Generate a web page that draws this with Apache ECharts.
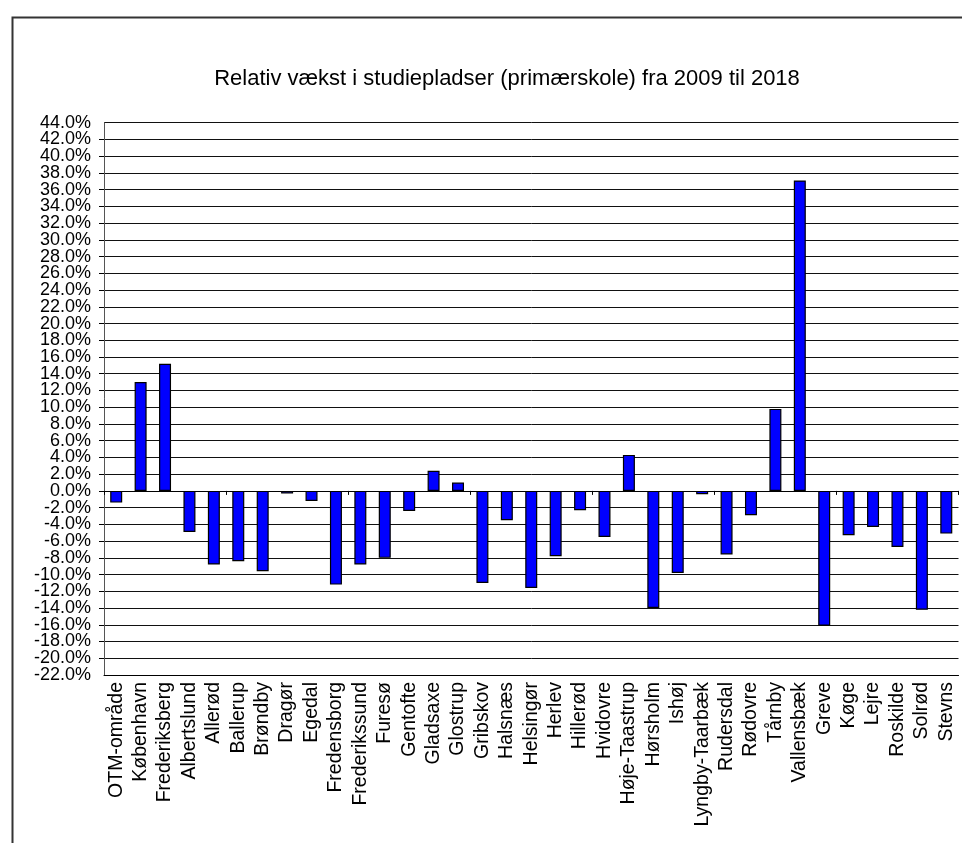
<!DOCTYPE html>
<html>
<head>
<meta charset="utf-8">
<script src="https://cdn.jsdelivr.net/npm/echarts@6/dist/echarts.min.js"></script>
<style>html,body{margin:0;padding:0;background:#fff}#c{width:962px;height:843px}</style>
</head>
<body>
<div id="c"></div>
<script>
const titleText = 'Relativ vækst i studiepladser (primærskole) fra 2009 til 2018';
const categories = ['OTM-område','København','Frederiksberg','Albertslund','Allerød','Ballerup','Brøndby','Dragør','Egedal','Fredensborg','Frederikssund','Furesø','Gentofte','Gladsaxe','Glostrup','Gribskov','Halsnæs','Helsingør','Herlev','Hillerød','Hvidovre','Høje-Taastrup','Hørsholm','Ishøj','Lyngby-Taarbæk','Rudersdal','Rødovre','Tårnby','Vallensbæk','Greve','Køge','Lejre','Roskilde','Solrød','Stevns'];
const growth = [-1.4,13.0,15.2,-4.9,-8.8,-8.4,-9.6,-0.3,-1.2,-11.2,-8.8,-8.0,-2.4,2.4,1.0,-11.0,-3.5,-11.6,-7.8,-2.3,-5.5,4.3,-14.0,-9.8,-0.4,-7.6,-2.9,9.8,37.1,-16.1,-5.3,-4.3,-6.7,-14.2,-5.1];
const yMin = -22, yMax = 44, yStep = 2;

const chart = echarts.init(document.getElementById('c'));
const font = 'Liberation Sans, Arial, sans-serif';
const fmt = v => v.toFixed(1) + '%';
chart.setOption({
  animation: false,
  backgroundColor: '#fff',
  textStyle: { fontFamily: font },
  graphic: [{
    type: 'rect', left: 10, top: 15, z: -1, silent: true,
    shape: { width: 1000, height: 900 },
    style: { fill: 'none', stroke: '#333', lineWidth: 2 }
  }],
  title: {
    text: titleText, left: 502, top: 63, textAlign: 'center',
    textStyle: { fontFamily: font, fontSize: 22, fontWeight: 'normal', color: '#000' }
  },
  grid: { left: 104, right: 3.5, top: 122.7, bottom: 168, containLabel: false },
  xAxis: [{
    type: 'category', data: categories, position: 'bottom',
    axisLine: { onZero: false, lineStyle: { color: '#000', width: 1 } },
    axisTick: { show: false },
    axisLabel: { interval: 0, rotate: 90, fontSize: 19.5, color: '#000', margin: 7, fontFamily: font }
  }, {
    type: 'category', data: categories, position: 'bottom',
    axisLine: { onZero: true, lineStyle: { color: '#000', width: 1 } },
    axisTick: { show: true, length: 4, lineStyle: { color: '#000' } },
    axisLabel: { show: false }
  }],
  yAxis: [{
    type: 'value', min: yMin, max: yMax, interval: yStep, position: 'left',
    axisLine: { show: true, onZero: false, lineStyle: { color: '#555', width: 1 } },
    axisTick: { show: true, length: 5, lineStyle: { color: '#000' } },
    splitLine: { show: true, lineStyle: { color: '#111', width: 1 } },
    axisLabel: { fontSize: 18, color: '#000', margin: 13, fontFamily: font, formatter: fmt }
  }, {
    type: 'value', min: yMin, max: yMax, interval: yStep, position: 'left', offset: 0,
    axisLine: { show: false, onZero: false },
    axisTick: { show: false },
    splitLine: { show: false },
    axisLabel: { fontSize: 18, color: '#000', margin: 13, fontFamily: font,
      showMinLabel: true, showMaxLabel: true,
      formatter: v => (v === yMin || v === yMax) ? fmt(v) : '' }
  }],
  series: [{
    type: 'bar', data: growth, xAxisIndex: 0, yAxisIndex: 0, barWidth: 12,
    itemStyle: { color: '#0000FF', borderColor: '#000', borderWidth: 1.2 }
  }]
});
</script>
</body>
</html>
